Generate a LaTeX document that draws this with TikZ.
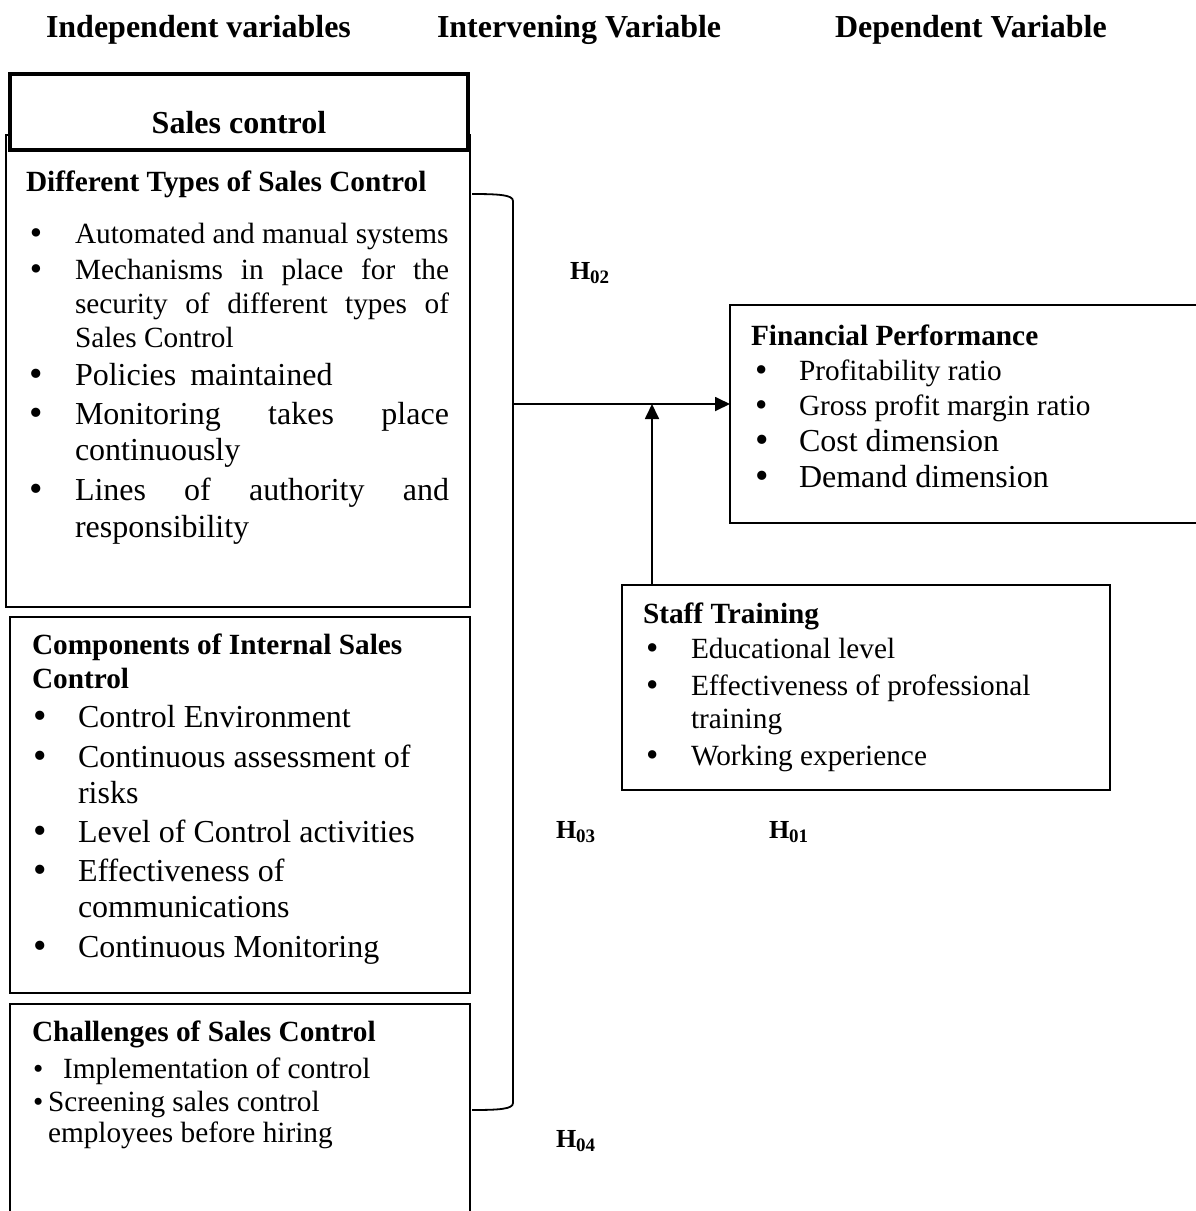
\documentclass[tikz,border=0pt]{standalone}
\usepackage{fontspec}
\setmainfont{Liberation Serif}
\usetikzlibrary{arrows.meta}
\newcommand{\SzL}{\fontsize{32}{36}\selectfont}
\newcommand{\SzM}{\fontsize{29.3}{34}\selectfont}
\newcommand{\Bul}{\raisebox{-1.5pt}{\scalebox{1.2}{•}}}
\newcommand{\Hlab}[1]{\fontsize{26}{28}\selectfont\textbf{H}\raisebox{-4pt}{\fontsize{19}{20}\selectfont\textbf{#1}}}
\begin{document}
\begin{tikzpicture}[x=1pt,y=-1pt,
  box/.style={draw, line width=1.6pt, inner sep=0pt, outer sep=0pt, anchor=north west},
  txt/.style={anchor=base west, inner sep=0pt, outer sep=0pt},
  big/.style={txt, font=\SzL},
  mid/.style={txt, font=\SzM},
  bigb/.style={txt, font=\SzL\bfseries},
  midb/.style={txt, font=\SzM\bfseries},
  conn/.style={line width=1.8pt},
  arr/.style={conn, -{Triangle[length=15pt,width=14pt]}}
]
\useasboundingbox (0,0) rectangle (1195,1211);

% headers
\node[bigb] (h1) at (46,37) {Independent variables};
\node[bigb] (h2) at (437,37) {Intervening Variable};
\node[bigb] (h3) at (835,37) {Dependent Variable};

% boxes
\node[box, minimum width=464pt, minimum height=472pt] (dt) at (6,135) {};
\node[box, line width=4.5pt, fill=white, minimum width=458pt, minimum height=76pt] (sc) at (10,74) {};
\node[box, minimum width=460pt, minimum height=376pt] (comp) at (10,617) {};
\node[box, minimum width=460pt, minimum height=240pt] (chal) at (10,1004) {};
\node[box, minimum width=500pt, minimum height=218pt] (fin) at (730,305) {};
\node[box, minimum width=488pt, minimum height=205pt] (staff) at (622,585) {};

% Sales control
\node[bigb, anchor=base] (sct) at (239,133) {Sales control};

% Different types
\node[midb] (dth) at (26,191) {Different Types of Sales Control};
\node[mid] (db1) at (30,243) {\Bul};
\node[mid] (dt1) at (75,243) {Automated and manual systems};
\node[mid] (db2) at (30,279) {\Bul};
\node[mid] (dt2) at (75,279) {\makebox[374pt][s]{Mechanisms in place for the}};
\node[mid] (dt3) at (75,313) {\makebox[374pt][s]{security of different types of}};
\node[mid] (dt4) at (75,347) {Sales Control};
\node[big] (db5) at (30,385) {\Bul};
\node[big] (dt5) at (75,385) {Policies\hspace{14pt}maintained};
\node[big] (db6) at (30,424) {\Bul};
\node[big] (dt6) at (75,424) {\makebox[374pt][s]{Monitoring takes place}};
\node[big] (dt7) at (75,460) {continuously};
\node[big] (db8) at (30,500) {\Bul};
\node[big] (dt8) at (75,500) {\makebox[374pt][s]{Lines of authority and}};
\node[big] (dt9) at (75,537) {responsibility};

% Components
\node[midb] (cph1) at (32,654) {Components of Internal Sales};
\node[midb] (cph2) at (32,688) {Control};
\node[big] (cb1) at (34,727) {\Bul};
\node[big] (ct1) at (78,727) {Control Environment};
\node[big] (cb2) at (34,767) {\Bul};
\node[big] (ct2) at (78,767) {Continuous assessment of};
\node[big] (ct3) at (78,803) {risks};
\node[big] (cb4) at (34,842) {\Bul};
\node[big] (ct4) at (78,842) {Level of Control activities};
\node[big] (cb5) at (34,881) {\Bul};
\node[big] (ct5) at (78,881) {Effectiveness of};
\node[big] (ct6) at (78,917) {communications};
\node[big] (cb7) at (34,957) {\Bul};
\node[big] (ct7) at (78,957) {Continuous Monitoring};

% Challenges
\node[midb] (chh) at (32,1041) {Challenges of Sales Control};
\node[mid] (chb1) at (33,1078) {•};
\node[mid] (cht1) at (63,1078) {Implementation of control};
\node[mid] (chb2) at (33,1111) {•};
\node[mid] (cht2) at (48,1111) {Screening sales control};
\node[mid] (cht3) at (48,1142) {employees before hiring};

% Financial performance
\node[midb] (fh) at (751,345) {Financial Performance};
\node[mid] (fb1) at (755,380) {\Bul};
\node[mid] (ft1) at (799,380) {Profitability ratio};
\node[mid] (fb2) at (755,415) {\Bul};
\node[mid] (ft2) at (799,415) {Gross profit margin ratio};
\node[big] (fb3) at (755,451) {\Bul};
\node[big] (ft3) at (799,451) {Cost dimension};
\node[big] (fb4) at (755,487) {\Bul};
\node[big] (ft4) at (799,487) {Demand dimension};

% Staff training
\node[midb] (sh) at (643,623) {Staff Training};
\node[mid] (sb1) at (646,658) {\Bul};
\node[mid] (st1) at (691,658) {Educational level};
\node[mid] (sb2) at (646,695) {\Bul};
\node[mid] (st2) at (691,695) {Effectiveness of professional};
\node[mid] (st3) at (691,728) {training};
\node[mid] (sb4) at (646,765) {\Bul};
\node[mid] (st4) at (691,765) {Working experience};

% hypothesis labels
\node[txt] (H02) at (570,279) {\Hlab{02}};
\node[txt] (H03) at (556,838) {\Hlab{03}};
\node[txt] (H01) at (769,838) {\Hlab{01}};
\node[txt] (H04) at (556,1147) {\Hlab{04}};

% bracket and arrows
\coordinate (bt) at (472,194);
\coordinate (bb) at (472,1110);
\coordinate (bm) at (513,404);
\coordinate (sa) at (652,585);
\draw[conn] (bt) .. controls (500,194) and (513,195) .. (513,201) -- (513,1103) .. controls (513,1109) and (500,1110) .. (bb);
\draw[arr] (bm) -- (bm -| fin.west);
\draw[arr] (sa) -- (sa |- bm);
\end{tikzpicture}
\end{document}
